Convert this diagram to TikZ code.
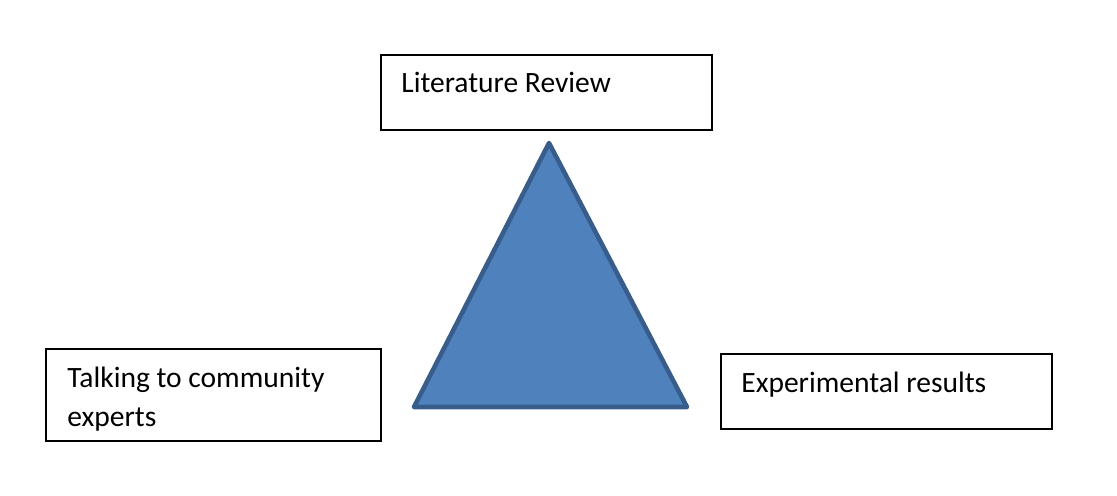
\documentclass[tikz,border=0pt]{standalone}
\usepackage{fontspec}
\setmainfont{Carlito}
\usepackage{tikz}
\usetikzlibrary{calc,positioning}
\definecolor{triblue}{HTML}{4F81BD}
\definecolor{triedge}{HTML}{385D8A}

\begin{document}
\begin{tikzpicture}[x=0.02cm,y=-0.02cm,font=\fontsize{16.8}{22}\selectfont,
  box/.style={draw=black,line width=0.9pt,inner sep=0pt},
  lbl/.style={inner sep=0pt,anchor=base west,align=left}]
\useasboundingbox (0,0) rectangle (1117,496);
% three boxes
\node[box,minimum width=331*0.02cm,minimum height=75*0.02cm,anchor=north west] (lit) at (380,54) {};
\node[box,minimum width=335*0.02cm,minimum height=92*0.02cm,anchor=north west] (talk) at (45,348) {};
\node[box,minimum width=331*0.02cm,minimum height=75*0.02cm,anchor=north west] (exp) at (720,353) {};
\node[lbl] (littxt) at (401,93) {Literature Review};
\node[lbl] (talktxt) at (67,388) {Talking to community};
\node[lbl] (talktxtb) at (67,427) {experts};
\node[lbl] (exptxt) at (741,393) {Experimental results};
% triangle
\coordinate (apex) at (549,143);
\coordinate (bl) at (414,407);
\coordinate (br) at (687,407);
\draw[fill=triblue,draw=triedge,line width=2.6pt,line join=round] (apex) -- (br) -- (bl) -- cycle;
\end{tikzpicture}
\end{document}
